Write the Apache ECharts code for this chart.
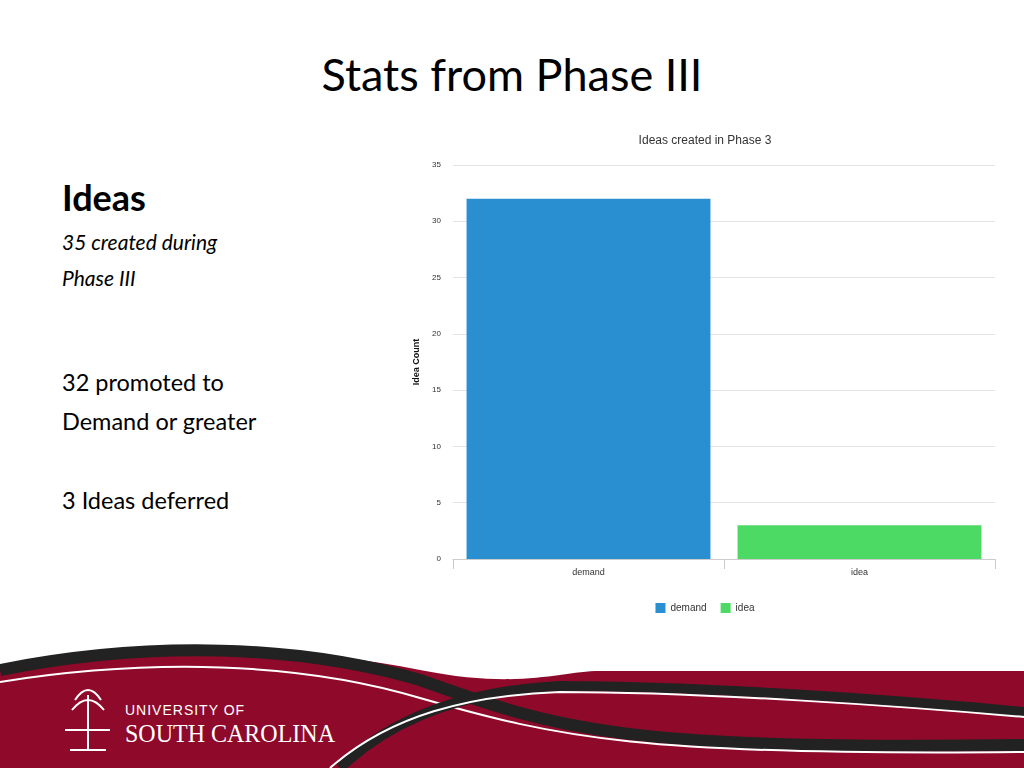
<!DOCTYPE html>
<html><head><meta charset="utf-8">
<script src="https://cdn.jsdelivr.net/npm/echarts@6/dist/echarts.min.js"></script>
<style>
body{margin:0;width:1024px;height:768px;background:#fff;position:relative;overflow:hidden;font-family:Lato,"Open Sans",sans-serif;}
.t{position:absolute;white-space:nowrap;color:#000;}
</style></head><body>
<div class="t" style="left:0;width:1024px;text-align:center;top:47px;font-size:45px;">Stats from Phase III</div>
<div class="t" style="left:62px;top:175px;font-size:36px;font-weight:bold;">Ideas</div>
<div class="t" style="left:62px;top:229px;font-size:21px;font-style:italic;">35 created during</div>
<div class="t" style="left:62px;top:265px;font-size:21px;font-style:italic;">Phase III</div>
<div class="t" style="left:62px;top:368px;font-size:23.5px;">32 promoted to</div>
<div class="t" style="left:62px;top:407px;font-size:23.5px;">Demand or greater</div>
<div class="t" style="left:62px;top:486px;font-size:23.5px;">3 Ideas deferred</div>
<div id="c" style="position:absolute;left:400px;top:120px;width:610px;height:510px;"></div>
<svg style="position:absolute;left:0;top:640px" width="1024" height="128">
<path d="M0 30 C150 5 300 5 420 30 C520 50 560 31 600 31 L1024 31 L1024 128 L0 128 Z" fill="#8f0a2a"/>
<path d="M0 30 C150 0 300 5 420 40 C560 90 620 110 1024 105" stroke="#222" stroke-width="12" fill="none"/>
<path d="M0 42 C150 18 300 22 420 58 C560 98 640 116 1024 112" stroke="#fff" stroke-width="2" fill="none"/>
<path d="M340 128 C400 70 480 50 560 46 C700 46 900 60 1024 72" stroke="#222" stroke-width="10" fill="none"/>
<path d="M330 128 C390 75 470 55 560 52 C700 52 900 66 1024 77" stroke="#fff" stroke-width="2" fill="none"/>
<text x="125" y="75" fill="#fff" font-family="Liberation Sans Narrow,sans-serif" font-size="14" letter-spacing="1">UNIVERSITY OF</text>
<text x="125" y="102" fill="#fff" font-family="Liberation Serif,serif" font-size="26" textLength="210" lengthAdjust="spacingAndGlyphs">SOUTH CAROLINA</text>
<g fill="none" stroke="#fff" stroke-width="2"><path d="M88 55 L88 110 M75 60 Q88 40 101 60 M72 70 Q88 50 104 70 M65 90 L110 90 M70 110 L106 110"/></g>
</svg>
<script>
var categories=['demand','idea'];
var demandValues=[32,'-'];
var ideaValues=['-',3];
var chart=echarts.init(document.getElementById('c'));
var tf='"Liberation Sans Narrow",sans-serif';
chart.setOption({
 animation:false,
 title:{text:'Ideas created in Phase 3',left:'center',top:10,textStyle:{fontSize:12,fontWeight:'normal',color:'#333',fontFamily:tf}},
 legend:{bottom:12,itemWidth:10,itemHeight:10,itemGap:14,icon:'rect',textStyle:{fontSize:10,color:'#333',fontFamily:tf},data:['demand','idea']},
 grid:{left:53,right:15,top:45,bottom:71},
 xAxis:{type:'category',data:categories,axisLine:{lineStyle:{color:'#ccc'}},axisTick:{show:true,lineStyle:{color:'#ccc'},length:10},axisLabel:{fontSize:9,color:'#333',fontFamily:tf,margin:9}},
 yAxis:{type:'value',min:0,max:35,interval:5,name:'Idea Count',nameLocation:'middle',nameGap:27,nameRotate:90,nameTextStyle:{fontSize:9,fontWeight:'bold',color:'#111'},axisLabel:{fontSize:8,color:'#333',fontFamily:tf,margin:12},splitLine:{lineStyle:{color:'#e3e3e3'}}},
 series:[
  {name:'demand',type:'bar',stack:'s',data:demandValues,barWidth:'90%',itemStyle:{color:'#2a8fd0'}},
  {name:'idea',type:'bar',stack:'s',data:ideaValues,barWidth:'90%',itemStyle:{color:'#4cd964'}}
 ]
});
</script></body></html>
